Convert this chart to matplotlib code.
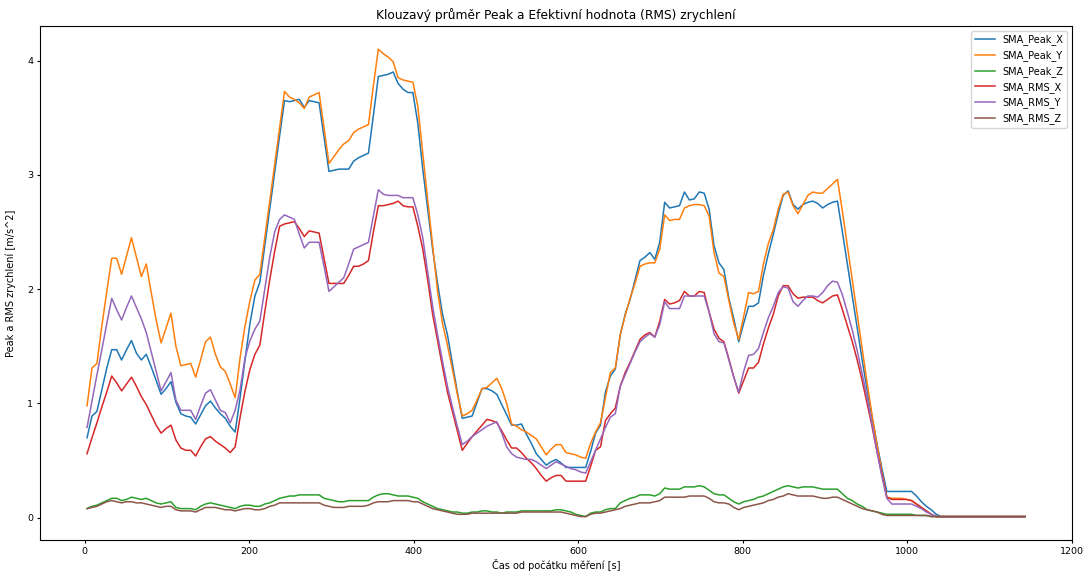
#!/usr/bin/env python3
"""
Klouzavy prumer Peak a RMS zrychleni - replot of the SMA curves.
"""
import numpy as np
import matplotlib
matplotlib.use('Agg')
import matplotlib.pyplot as plt
from matplotlib.ticker import MultipleLocator

OUT_PATH = 'out.png'

# time axis [s] - one SMA sample every 6 s
cas = np.arange(3, 1144, 6)

# SMA of peak acceleration (x, y, z) [m/s^2]
sma_peak_x = [
    0.70, 0.89, 0.93, 1.12, 1.31, 1.47, 1.47, 1.38, 1.47, 1.55,
    1.44, 1.38, 1.43, 1.32, 1.20, 1.08, 1.13, 1.19, 1.01, 0.91,
    0.89, 0.88, 0.82, 0.90, 0.98, 1.02, 0.96, 0.91, 0.87, 0.80,
    0.75, 1.05, 1.38, 1.70, 1.94, 2.06, 2.38, 2.70, 3.02, 3.34,
    3.65, 3.64, 3.65, 3.66, 3.59, 3.65, 3.64, 3.63, 3.33, 3.03,
    3.04, 3.05, 3.05, 3.05, 3.12, 3.15, 3.17, 3.19, 3.52, 3.86,
    3.87, 3.88, 3.90, 3.80, 3.75, 3.72, 3.72, 3.45, 3.05, 2.70,
    2.35, 2.05, 1.78, 1.60, 1.35, 1.10, 0.87, 0.88, 0.89, 1.01,
    1.13, 1.13, 1.11, 1.08, 0.99, 0.90, 0.81, 0.81, 0.82, 0.73,
    0.65, 0.56, 0.51, 0.46, 0.49, 0.51, 0.48, 0.44, 0.44, 0.44,
    0.44, 0.44, 0.58, 0.74, 0.81, 1.10, 1.24, 1.30, 1.60, 1.78,
    1.91, 2.08, 2.25, 2.28, 2.32, 2.26, 2.41, 2.76, 2.71, 2.72,
    2.73, 2.85, 2.78, 2.79, 2.85, 2.84, 2.70, 2.38, 2.23, 2.17,
    1.92, 1.74, 1.54, 1.70, 1.85, 1.85, 1.88, 2.12, 2.31, 2.48,
    2.66, 2.82, 2.86, 2.74, 2.70, 2.74, 2.76, 2.77, 2.75, 2.71,
    2.74, 2.76, 2.77, 2.50, 2.22, 1.94, 1.66, 1.38, 1.12, 0.88,
    0.65, 0.43, 0.23, 0.23, 0.23, 0.23, 0.23, 0.23, 0.19, 0.14,
    0.10, 0.07, 0.03, 0.01, 0.01, 0.01, 0.01, 0.01, 0.01, 0.01,
    0.01, 0.01, 0.01, 0.01, 0.01, 0.01, 0.01, 0.01, 0.01, 0.01, 0.01,
]
sma_peak_y = [
    0.98, 1.31, 1.35, 1.68, 1.98, 2.27, 2.27, 2.13, 2.29, 2.45,
    2.28, 2.11, 2.22, 1.97, 1.73, 1.53, 1.66, 1.79, 1.50, 1.33,
    1.34, 1.35, 1.23, 1.38, 1.54, 1.58, 1.43, 1.32, 1.28, 1.17,
    1.05, 1.40, 1.68, 1.90, 2.08, 2.13, 2.45, 2.77, 3.09, 3.41,
    3.73, 3.68, 3.66, 3.63, 3.58, 3.68, 3.70, 3.72, 3.41, 3.10,
    3.16, 3.22, 3.27, 3.30, 3.37, 3.40, 3.42, 3.44, 3.78, 4.10,
    4.06, 4.03, 3.99, 3.85, 3.83, 3.82, 3.81, 3.60, 3.19, 2.78,
    2.38, 1.98, 1.70, 1.51, 1.30, 1.08, 0.89, 0.91, 0.94, 1.03,
    1.13, 1.14, 1.18, 1.22, 1.13, 1.00, 0.82, 0.80, 0.77, 0.75,
    0.72, 0.69, 0.62, 0.55, 0.60, 0.64, 0.64, 0.57, 0.56, 0.55,
    0.53, 0.52, 0.65, 0.75, 0.83, 1.05, 1.27, 1.31, 1.60, 1.77,
    1.92, 2.05, 2.20, 2.22, 2.23, 2.23, 2.35, 2.65, 2.60, 2.61,
    2.61, 2.71, 2.73, 2.74, 2.74, 2.73, 2.64, 2.32, 2.14, 2.11,
    1.90, 1.70, 1.56, 1.76, 1.97, 1.96, 1.98, 2.22, 2.40, 2.52,
    2.70, 2.83, 2.85, 2.73, 2.66, 2.74, 2.82, 2.85, 2.84, 2.84,
    2.88, 2.92, 2.96, 2.68, 2.38, 2.08, 1.78, 1.48, 1.18, 0.90,
    0.64, 0.40, 0.18, 0.17, 0.17, 0.17, 0.16, 0.15, 0.12, 0.09,
    0.06, 0.03, 0.01, 0.01, 0.01, 0.01, 0.01, 0.01, 0.01, 0.01,
    0.01, 0.01, 0.01, 0.01, 0.01, 0.01, 0.01, 0.01, 0.01, 0.01, 0.01,
]
sma_peak_z = [
    0.08, 0.10, 0.11, 0.13, 0.15, 0.17, 0.17, 0.15, 0.16, 0.18,
    0.17, 0.16, 0.17, 0.15, 0.13, 0.12, 0.13, 0.14, 0.09, 0.08,
    0.08, 0.08, 0.07, 0.10, 0.12, 0.13, 0.12, 0.11, 0.10, 0.09,
    0.08, 0.10, 0.11, 0.11, 0.10, 0.10, 0.12, 0.13, 0.15, 0.17,
    0.18, 0.19, 0.19, 0.20, 0.20, 0.20, 0.20, 0.20, 0.17, 0.16,
    0.15, 0.14, 0.14, 0.15, 0.15, 0.15, 0.15, 0.15, 0.18, 0.20,
    0.21, 0.21, 0.20, 0.19, 0.19, 0.19, 0.18, 0.17, 0.14, 0.12,
    0.10, 0.08, 0.07, 0.06, 0.05, 0.05, 0.04, 0.04, 0.05, 0.05,
    0.06, 0.06, 0.05, 0.05, 0.04, 0.05, 0.05, 0.05, 0.06, 0.06,
    0.06, 0.06, 0.06, 0.06, 0.06, 0.07, 0.07, 0.06, 0.05, 0.03,
    0.02, 0.01, 0.04, 0.05, 0.05, 0.07, 0.08, 0.08, 0.13, 0.15,
    0.17, 0.18, 0.20, 0.20, 0.20, 0.19, 0.21, 0.26, 0.25, 0.25,
    0.25, 0.27, 0.27, 0.27, 0.28, 0.27, 0.24, 0.21, 0.20, 0.20,
    0.17, 0.14, 0.12, 0.14, 0.15, 0.16, 0.18, 0.19, 0.21, 0.23,
    0.25, 0.27, 0.28, 0.27, 0.26, 0.27, 0.27, 0.27, 0.26, 0.25,
    0.25, 0.25, 0.25, 0.21, 0.17, 0.15, 0.12, 0.10, 0.07, 0.06,
    0.05, 0.04, 0.03, 0.03, 0.03, 0.03, 0.03, 0.03, 0.02, 0.02,
    0.02, 0.01, 0.01, 0.01, 0.01, 0.01, 0.01, 0.01, 0.01, 0.01,
    0.01, 0.01, 0.01, 0.01, 0.01, 0.01, 0.01, 0.01, 0.01, 0.01, 0.01,
]

# SMA of RMS acceleration (x, y, z) [m/s^2]
sma_rms_x = [
    0.56, 0.70, 0.83, 0.97, 1.10, 1.24, 1.18, 1.11, 1.17, 1.23,
    1.15, 1.06, 0.99, 0.90, 0.81, 0.74, 0.78, 0.81, 0.68, 0.61,
    0.59, 0.59, 0.54, 0.62, 0.69, 0.71, 0.67, 0.64, 0.61, 0.57,
    0.62, 0.88, 1.11, 1.30, 1.43, 1.51, 1.80, 2.08, 2.33, 2.55,
    2.57, 2.58, 2.59, 2.53, 2.46, 2.51, 2.50, 2.49, 2.27, 2.05,
    2.05, 2.05, 2.05, 2.12, 2.20, 2.20, 2.22, 2.25, 2.50, 2.73,
    2.73, 2.74, 2.75, 2.77, 2.73, 2.72, 2.72, 2.55, 2.35, 2.08,
    1.78, 1.55, 1.32, 1.10, 0.93, 0.76, 0.59, 0.65, 0.71, 0.76,
    0.81, 0.86, 0.85, 0.83, 0.76, 0.68, 0.61, 0.61, 0.57, 0.52,
    0.48, 0.43, 0.37, 0.32, 0.35, 0.37, 0.37, 0.32, 0.32, 0.32,
    0.32, 0.32, 0.45, 0.59, 0.62, 0.85, 0.91, 0.96, 1.15, 1.27,
    1.36, 1.46, 1.56, 1.60, 1.62, 1.58, 1.72, 1.91, 1.87, 1.88,
    1.90, 1.98, 1.94, 1.94, 1.98, 1.97, 1.80, 1.65, 1.57, 1.54,
    1.39, 1.23, 1.09, 1.20, 1.31, 1.31, 1.36, 1.52, 1.66, 1.78,
    1.94, 2.03, 2.03, 1.96, 1.92, 1.93, 1.93, 1.93, 1.90, 1.88,
    1.91, 1.94, 1.95, 1.82, 1.68, 1.54, 1.38, 1.20, 1.00, 0.80,
    0.58, 0.38, 0.18, 0.16, 0.16, 0.16, 0.16, 0.15, 0.12, 0.09,
    0.06, 0.03, 0.01, 0.01, 0.01, 0.01, 0.01, 0.01, 0.01, 0.01,
    0.01, 0.01, 0.01, 0.01, 0.01, 0.01, 0.01, 0.01, 0.01, 0.01, 0.01,
]
sma_rms_y = [
    0.79, 1.02, 1.25, 1.47, 1.70, 1.92, 1.82, 1.73, 1.84, 1.94,
    1.84, 1.74, 1.62, 1.45, 1.28, 1.11, 1.19, 1.27, 1.03, 0.94,
    0.94, 0.94, 0.86, 0.98, 1.09, 1.12, 1.03, 0.94, 0.92, 0.83,
    0.94, 1.12, 1.40, 1.55, 1.65, 1.72, 2.00, 2.28, 2.50, 2.61,
    2.65, 2.63, 2.61, 2.48, 2.36, 2.41, 2.41, 2.41, 2.20, 1.98,
    2.02, 2.06, 2.10, 2.22, 2.35, 2.37, 2.39, 2.41, 2.64, 2.87,
    2.83, 2.82, 2.82, 2.82, 2.80, 2.80, 2.80, 2.65, 2.45, 2.15,
    1.85, 1.60, 1.37, 1.15, 0.97, 0.80, 0.64, 0.67, 0.71, 0.74,
    0.77, 0.80, 0.82, 0.84, 0.74, 0.62, 0.56, 0.53, 0.52, 0.51,
    0.51, 0.49, 0.46, 0.43, 0.46, 0.49, 0.47, 0.45, 0.43, 0.42,
    0.40, 0.39, 0.49, 0.59, 0.69, 0.79, 0.88, 0.91, 1.15, 1.25,
    1.35, 1.45, 1.54, 1.58, 1.61, 1.58, 1.69, 1.89, 1.83, 1.83,
    1.83, 1.94, 1.94, 1.94, 1.94, 1.94, 1.80, 1.61, 1.54, 1.53,
    1.38, 1.23, 1.10, 1.28, 1.42, 1.43, 1.48, 1.62, 1.75, 1.85,
    1.97, 2.02, 2.01, 1.89, 1.85, 1.90, 1.94, 1.94, 1.93, 1.97,
    2.03, 2.07, 2.06, 1.95, 1.80, 1.64, 1.46, 1.26, 1.05, 0.82,
    0.58, 0.36, 0.17, 0.12, 0.12, 0.12, 0.12, 0.12, 0.10, 0.08,
    0.05, 0.03, 0.01, 0.01, 0.01, 0.01, 0.01, 0.01, 0.01, 0.01,
    0.01, 0.01, 0.01, 0.01, 0.01, 0.01, 0.01, 0.01, 0.01, 0.01, 0.01,
]
sma_rms_z = [
    0.08, 0.09, 0.10, 0.12, 0.14, 0.15, 0.14, 0.13, 0.14, 0.14,
    0.13, 0.13, 0.12, 0.11, 0.10, 0.09, 0.10, 0.10, 0.07, 0.06,
    0.06, 0.06, 0.05, 0.07, 0.09, 0.09, 0.09, 0.08, 0.07, 0.07,
    0.06, 0.07, 0.08, 0.08, 0.07, 0.07, 0.08, 0.10, 0.11, 0.13,
    0.13, 0.13, 0.13, 0.13, 0.13, 0.13, 0.13, 0.13, 0.11, 0.10,
    0.09, 0.09, 0.09, 0.10, 0.10, 0.10, 0.10, 0.11, 0.13, 0.14,
    0.14, 0.14, 0.15, 0.15, 0.15, 0.15, 0.14, 0.14, 0.12, 0.10,
    0.08, 0.07, 0.06, 0.05, 0.04, 0.03, 0.03, 0.03, 0.04, 0.04,
    0.04, 0.04, 0.04, 0.04, 0.04, 0.04, 0.04, 0.04, 0.05, 0.05,
    0.05, 0.05, 0.05, 0.05, 0.05, 0.05, 0.05, 0.04, 0.03, 0.02,
    0.01, 0.01, 0.03, 0.04, 0.04, 0.05, 0.06, 0.07, 0.08, 0.10,
    0.11, 0.12, 0.13, 0.13, 0.13, 0.14, 0.15, 0.18, 0.18, 0.18,
    0.18, 0.18, 0.19, 0.19, 0.19, 0.19, 0.17, 0.14, 0.13, 0.13,
    0.12, 0.09, 0.07, 0.09, 0.10, 0.11, 0.12, 0.13, 0.15, 0.16,
    0.18, 0.19, 0.21, 0.20, 0.19, 0.19, 0.19, 0.19, 0.18, 0.17,
    0.17, 0.18, 0.18, 0.16, 0.14, 0.12, 0.10, 0.08, 0.07, 0.06,
    0.05, 0.03, 0.02, 0.02, 0.02, 0.02, 0.02, 0.02, 0.02, 0.02,
    0.02, 0.01, 0.01, 0.01, 0.01, 0.01, 0.01, 0.01, 0.01, 0.01,
    0.01, 0.01, 0.01, 0.01, 0.01, 0.01, 0.01, 0.01, 0.01, 0.01, 0.01,
]

series = [
    ('SMA_Peak_X', sma_peak_x),
    ('SMA_Peak_Y', sma_peak_y),
    ('SMA_Peak_Z', sma_peak_z),
    ('SMA_RMS_X', sma_rms_x),
    ('SMA_RMS_Y', sma_rms_y),
    ('SMA_RMS_Z', sma_rms_z),
]

fig = plt.figure(figsize=(10.85, 5.72), dpi=100)
ax = fig.add_axes([0.037, 0.056, 0.951, 0.899])

for name, vals in series:
    ax.plot(cas, vals, label=name, linewidth=1.1)

ax.yaxis.set_major_locator(MultipleLocator(1))
ax.tick_params(labelsize=6.8, length=2.5, pad=2.5)
ax.set_title('Klouzavý průměr Peak a Efektivní hodnota (RMS) zrychlení',
             fontsize=8.8, pad=4.5)
ax.set_xlabel('Čas od počátku měření [s]', fontsize=7, labelpad=2.5)
ax.set_ylabel('Peak a RMS zrychlení [m/s^2]', fontsize=7, labelpad=8)
ax.legend(loc='upper right', fontsize=7)

fig.savefig(OUT_PATH, dpi=100)
print('Wrote', OUT_PATH)
